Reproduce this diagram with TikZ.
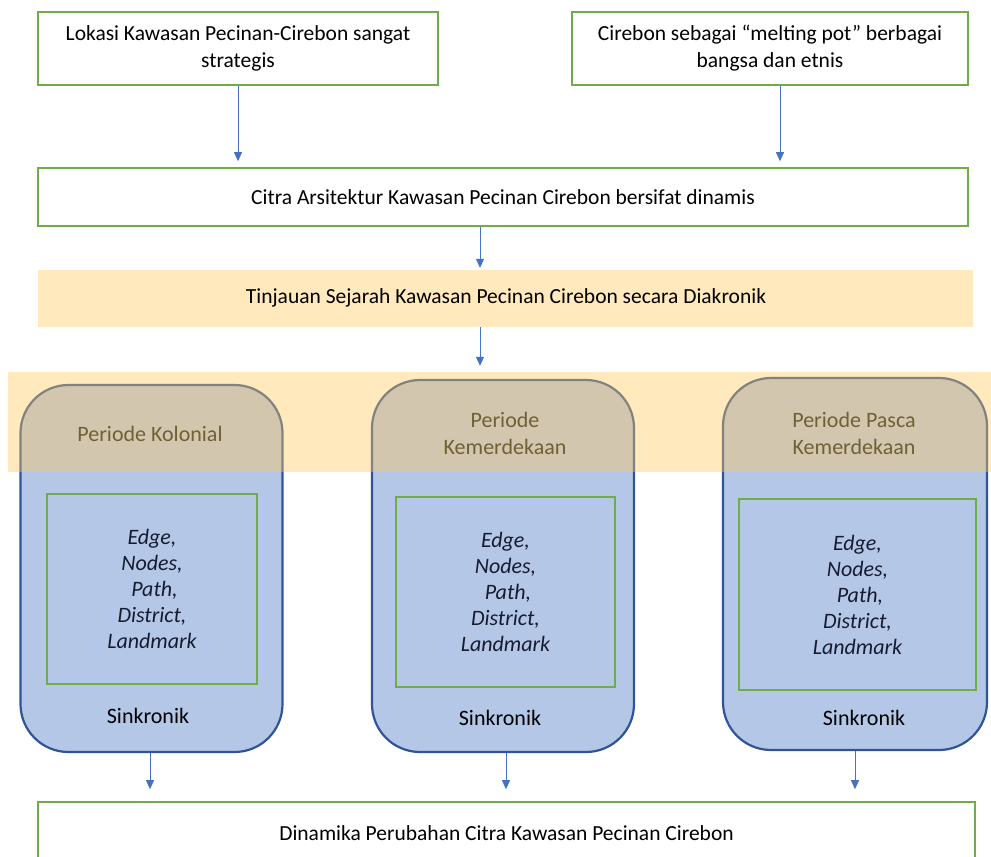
\documentclass[tikz,border=0pt]{standalone}
\usepackage{fontspec}
\setmainfont{Carlito}
\usetikzlibrary{arrows.meta,calc}
\definecolor{gbord}{RGB}{112,173,71}
\definecolor{bbord}{RGB}{47,85,151}
\definecolor{bfill}{RGB}{180,199,231}
\definecolor{yband}{RGB}{255,200,90}
\definecolor{arrcol}{RGB}{68,114,196}
\definecolor{titlecol}{RGB}{112,96,52}
\definecolor{itcol}{RGB}{22,28,48}
\tikzset{
  gbox/.style={draw=gbord,line width=1.6pt,fill=white,align=center,font=\fontsize{21.5}{27}\selectfont,inner sep=0pt},
  rbox/.style={draw=bbord,line width=2.2pt,fill=bfill,rounded corners=48pt,minimum width=262pt,inner sep=0pt},
  ibox/.style={draw=gbord,line width=1.3pt,align=center,inner sep=0pt,text=itcol,font=\fontsize{22}{26}\selectfont\itshape},
  band/.style={fill=yband,fill opacity=0.4,draw=none,inner sep=0pt},
  arr/.style={draw=arrcol,line width=0.8pt,-{Triangle[width=8pt,length=9pt]}},
  ttl/.style={text=titlecol,align=center,font=\fontsize{22}{27}\selectfont},
  snk/.style={font=\fontsize{22}{24}\selectfont,text=black}
}
\begin{document}
\begin{tikzpicture}[x=1pt,y=-1pt]
\clip (0,0) rectangle (991,857);
\fill[white] (0,0) rectangle (991,857);
% top boxes
\node[gbox,minimum width=400pt,minimum height=73pt] (b1) at (238,48.5) {Lokasi Kawasan Pecinan-Cirebon sangat\\strategis};
\node[gbox,minimum width=396pt,minimum height=73pt] (b2) at (770,48.5) {Cirebon sebagai “melting pot” berbagai\\bangsa dan etnis};
\node[gbox,minimum width=930pt,minimum height=58pt] (b3) at (503,197) {Citra Arsitektur Kawasan Pecinan Cirebon bersifat dinamis};
% diachronic band
\node[band,minimum width=935pt,minimum height=57pt] (bd) at (505.5,298.5) {};
\node[font=\fontsize{21.5}{24}\selectfont] (tj) at (506,298) {Tinjauan Sejarah Kawasan Pecinan Cirebon secara Diakronik};
% rounded period boxes
\node[rbox,minimum height=367pt] (pa) at (151.5,568.5) {};
\node[rbox,minimum height=372pt,minimum width=262pt] (pb) at (503,566) {};
\node[rbox,minimum height=372pt,minimum width=264pt] (pc) at (855,564) {};
% inner boxes
\node[ibox,minimum width=210pt,minimum height=190pt] (ia) at (152,589) {Edge,\\Nodes,\\\ Path,\\District,\\Landmark};
\node[ibox,minimum width=219pt,minimum height=190pt] (ib) at (505.5,592) {Edge,\\Nodes,\\\ Path,\\District,\\Landmark};
\node[ibox,minimum width=237pt,minimum height=191pt] (ic) at (857.5,594.5) {Edge,\\Nodes,\\\ Path,\\District,\\Landmark};
\node[snk] (sa) at (148,716) {Sinkronik};
\node[snk] (sb) at (500,718) {Sinkronik};
\node[snk] (sc) at (864,718) {Sinkronik};
% wide band over the boxes
\node[band,minimum width=983pt,minimum height=100pt] (bw) at (499.5,422) {};
\node[ttl] (ta) at (150,434) {Periode Kolonial};
\node[ttl] (tb) at (505,433.5) {Periode\\Kemerdekaan};
\node[ttl] (tc) at (854,433) {Periode Pasca\\Kemerdekaan};
% bottom box
\node[gbox,minimum width=937pt,minimum height=62pt] (b4) at (506.5,833) {Dinamika Perubahan Citra Kawasan Pecinan Cirebon};
% connectors
\coordinate (c2) at ($(b2.south)+(10,0)$);
\coordinate (c3) at ($(b3.south)+(-23,0)$);
\coordinate (c4) at ($(bd.south)+(-25.5,0)$);
\draw[arr,shorten >=6pt] (b1.south) -- (b1.south |- b3.north);
\draw[arr,shorten >=6pt] (c2) -- (c2 |- b3.north);
\draw[arr,shorten >=2pt] (c3) -- (c3 |- bd.north);
\draw[arr,shorten >=6pt] (c4) -- (c4 |- bw.north);
\draw[arr,shorten >=12pt] ($(pa.south)+(-1.5,0)$) -- ($(pa.south |- b4.north)+(-1.5,0)$);
\draw[arr,shorten >=12pt] ($(pb.south)+(3,0)$) -- ($(pb.south |- b4.north)+(3,0)$);
\draw[arr,shorten >=12pt] (pc.south) -- (pc.south |- b4.north);
\end{tikzpicture}
\end{document}
